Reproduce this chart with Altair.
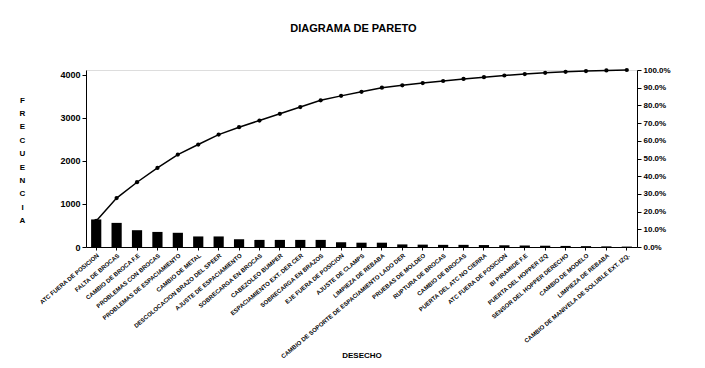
import altair as alt
import pandas as pd
import json

categories = [
    "ATC FUERA DE POSICION",
    "FALTA DE BROCAS",
    "CAMBIO DE BROCA F.E",
    "PROBLEMAS CON BROCAS",
    "PROBLEMAS DE ESPACIAMIENTO",
    "CAMBIO DE METAL",
    "DESCOLOCACION BRAZO DEL SPEER",
    "AJUSTE DE ESPACIAMIENTO",
    "SOBRECARGA EN BROCAS",
    "CABEZOLEO BUMPER",
    "ESPACIAMIENTO EXT. DER CER",
    "SOBRECARGA EN BRAZOS",
    "EJE FUERA DE POSICION",
    "AJUSTE DE CLAMPS",
    "LIMPIEZA DE REBABA",
    "CAMBIO DE SOPORTE DE ESPACIAMIENTO LADO DER",
    "PRUEBAS DE MOLDEO",
    "RUPTURA DE BROCAS",
    "CAMBIO DE BROCAS",
    "PUERTA DEL ATC NO CIERRA",
    "ATC FUERA DE POSICION",
    "BI PIRAMIDE F.E",
    "PUERTA DEL HOPPER IZQ",
    "SENSOR DEL HOPPER DERECHO",
    "CAMBIO DE MODELO",
    "LIMPIEZA DE REBABA",
    "CAMBIO DE MANIVELA DE SOLUBLE EXT. IZQ.",
]
frequencies = [640, 560, 390, 350, 330, 245, 245, 180, 165, 165, 165, 165, 110, 100, 100,
               60, 55, 50, 50, 45, 40, 35, 30, 25, 20, 15, 10]
left_ticks = [0, 1000, 2000, 3000, 4000]
right_ticks = [0, 0.1, 0.2, 0.3, 0.4, 0.5, 0.6, 0.7, 0.8, 0.9, 1.0]

df = pd.DataFrame({"idx": list(range(len(categories))), "freq": frequencies})

FONT = "Liberation Sans"
label_expr = json.dumps(categories).replace('"', "'") + "[datum.value]"

x_enc = alt.X(
    "idx:O",
    scale=alt.Scale(paddingInner=0.5, paddingOuter=0.25),
    axis=alt.Axis(
        title="DESECHO", labelExpr=label_expr, labelAngle=-40, labelFontSize=6,
        labelFontWeight="bold", labelFont=FONT, labelPadding=2, tickSize=3,
        labelLimit=400,
        titleFont=FONT, titleFontSize=8, titleFontWeight="bold", titleY=104,
        domainColor="black", tickColor="black", labelColor="black", titleColor="black",
        labelOverlap=False,
    ),
)

bars = alt.Chart(df).mark_bar(color="black").encode(
    x=x_enc,
    y=alt.Y(
        "freq:Q",
        scale=alt.Scale(domain=[0, 4110], nice=False),
        axis=alt.Axis(
            values=left_ticks, format="d", grid=False, title=list("FRECUENCIA"), titleAngle=0,
            titleX=-64, titleY=26, titleLineHeight=13.4, titleBaseline="top",
            titleFont=FONT, titleFontSize=8, titleFontWeight="bold", titleAlign="center",
            labelFont=FONT, labelFontSize=9, labelFontWeight="bold", tickSize=4,
            domainColor="black", tickColor="black", labelColor="black", titleColor="black",
        ),
    ),
)

cum = alt.Chart(df).transform_window(
    cumfreq="sum(freq)", sort=[alt.SortField("idx")], frame=[None, 0]
).transform_joinaggregate(total="sum(freq)").transform_calculate(
    pct="datum.cumfreq / datum.total"
)

right_axis = alt.Axis(
    orient="right", values=right_ticks, format=".1%", grid=False, title=None,
    labelFont=FONT, labelFontSize=8, labelFontWeight="bold", tickSize=4,
    domainColor="black", tickColor="black", labelColor="black",
)

line = cum.mark_line(color="black", strokeWidth=1.5).encode(
    x=x_enc,
    y=alt.Y("pct:Q", scale=alt.Scale(domain=[0, 1], nice=False), axis=right_axis),
)
points = cum.mark_point(filled=True, color="black", size=18, opacity=1).encode(
    x=x_enc,
    y=alt.Y("pct:Q", scale=alt.Scale(domain=[0, 1], nice=False), axis=right_axis),
)

chart = alt.layer(bars, line + points).resolve_scale(y="independent").properties(
    width=551,
    height=177,
    autosize=alt.AutoSizeParams(type="none"),
    padding={"left": 78, "top": 62, "right": 58, "bottom": 112},
    title=alt.Title(
        "DIAGRAMA DE PARETO", font=FONT, fontSize=11, fontWeight="bold",
        color="black", offset=32, frame="group", anchor="middle", dx=-8,
    ),
).configure_view(stroke="black", strokeWidth=1).configure(background="white")

chart.save("out.html", embed_options={"renderer": "svg", "actions": False})
